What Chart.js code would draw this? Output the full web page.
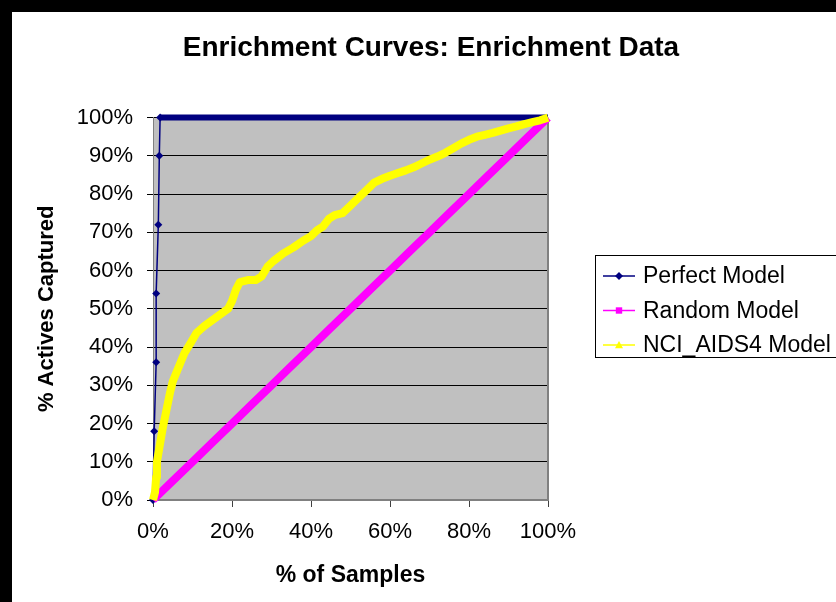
<!DOCTYPE html>
<html>
<head>
<meta charset="utf-8">
<title>Enrichment Curves: Enrichment Data</title>
<script src="https://cdn.jsdelivr.net/npm/chart.js@4/dist/chart.umd.min.js"></script>
<style>
  html, body { margin: 0; padding: 0; background: #000; }
  #frame { position: absolute; left: 12px; top: 12px; width: 824px; height: 590px; background: #fff; }
  canvas { display: block; }
</style>
</head>
<body>
<div id="frame"><canvas id="chart" width="824" height="590"></canvas></div>
<script>
// Percent of samples screened (x) vs percent of actives captured (y)
const perfectX = [0, 0.3, 0.8, 0.8, 1.35, 1.6, 1.8, 100];
const perfectY = [0, 18, 36, 54, 72, 90, 100, 100];

const randomX = [0, 5, 10, 15, 20, 25, 30, 35, 40, 45, 50, 55, 60, 65, 70, 75, 80, 85, 90, 95, 100];
const randomY = [0, 5, 10, 15, 20, 25, 30, 35, 40, 45, 50, 55, 60, 65, 70, 75, 80, 85, 90, 95, 100];

const nciX = [0, 0.5, 0.8, 1, 1.5, 2.5, 3.5, 4.3, 5, 6, 7, 8, 9.5, 11, 13, 15, 17, 19, 20, 21, 22,
  24, 26, 27.5, 29, 30.5, 33, 35.5, 38, 40, 41.5, 43, 44.5, 46, 48, 50, 52, 54, 56, 58, 60,
  62, 64, 66, 68, 70, 72, 74, 76, 78, 80, 82, 84, 86, 88, 90, 92, 94, 96, 98, 100];
const nciY = [0, 2, 6, 10, 13, 19, 24, 28, 31, 33.5, 36, 38.5, 41, 43.7, 45.5, 47, 48.5, 50, 52, 55, 57,
  57.5, 57.5, 58.5, 61, 62.5, 64.5, 66, 67.8, 69, 70.5, 71.5, 73.5, 74.5, 75, 77, 79, 81, 83, 84, 84.8,
  85.5, 86.2, 87, 88, 89, 89.8, 90.8, 92, 93.2, 94.2, 95, 95.5, 96, 96.6, 97.2, 97.7, 98.3, 98.8, 99.3, 100];

const seriesNames = ['Perfect Model', 'Random Model', 'NCI_AIDS4 Model'];
const yTicks = [0, 10, 20, 30, 40, 50, 60, 70, 80, 90, 100];
const xTicks = [0, 20, 40, 60, 80, 100];

const FONT = '"Liberation Sans", Arial, sans-serif';
const pts = (xs, ys) => xs.map((x, i) => ({ x: x, y: ys[i] }));

// gray plot area and right-hand frame line
const plotBackground = {
  id: 'plotBackground',
  beforeDraw(chart) {
    const { ctx, chartArea: a } = chart;
    ctx.save();
    ctx.fillStyle = '#c0c0c0';
    ctx.fillRect(a.left, a.top, a.right - a.left, a.bottom - a.top);
    ctx.restore();
  },
  beforeDatasetsDraw(chart) {
    const { ctx, chartArea: a } = chart;
    ctx.save();
    ctx.strokeStyle = '#808080';
    ctx.lineWidth = 2;
    ctx.beginPath();
    ctx.moveTo(a.right, a.top);
    ctx.lineTo(a.right, a.bottom);
    ctx.stroke();
    ctx.restore();
  }
};

function drawMarker(ctx, style, x, y, r, color) {
  ctx.fillStyle = color;
  ctx.beginPath();
  if (style === 'rectRot') {
    ctx.moveTo(x, y - r); ctx.lineTo(x + r, y); ctx.lineTo(x, y + r); ctx.lineTo(x - r, y);
  } else if (style === 'rect') {
    ctx.rect(x - r * 0.8, y - r * 0.8, r * 1.6, r * 1.6);
  } else {
    ctx.moveTo(x, y - r); ctx.lineTo(x + r, y + r * 0.8); ctx.lineTo(x - r, y + r * 0.8);
  }
  ctx.closePath();
  ctx.fill();
}

// boxed legend to the right of the plot
const boxLegend = {
  id: 'boxLegend',
  afterDraw(chart) {
    const { ctx } = chart;
    const left = 583, top = 243, bottom = 345, step = 34.5, firstY = 264;
    ctx.save();
    ctx.strokeStyle = '#000';
    ctx.lineWidth = 1;
    ctx.strokeRect(left + 0.5, top + 0.5, 300, bottom - top);
    ctx.font = '23px ' + FONT;
    ctx.textBaseline = 'middle';
    ctx.textAlign = 'left';
    chart.data.datasets.forEach((ds, i) => {
      const y = firstY + i * step;
      ctx.strokeStyle = ds.borderColor;
      ctx.lineWidth = 1.5;
      ctx.beginPath();
      ctx.moveTo(591, y);
      ctx.lineTo(623, y);
      ctx.stroke();
      drawMarker(ctx, ds.pointStyle, 607, y, 4, ds.borderColor);
      ctx.fillStyle = '#000';
      ctx.fillText(ds.label, 631, y + 1);
    });
    ctx.restore();
  }
};

new Chart(document.getElementById('chart'), {
  type: 'line',
  data: {
    datasets: [
      {
        label: seriesNames[0],
        data: pts(perfectX, perfectY),
        borderColor: '#000080',
        backgroundColor: '#000080',
        pointStyle: 'rectRot',
        pointRadius: ctx => (ctx.raw && ctx.raw.x < 100 ? 4 : 0),
        pointBorderWidth: 0,
        segment: {
          borderWidth: ctx => (ctx.p0.parsed.y >= 100 && ctx.p1.parsed.y >= 100 ? 6 : 1.5)
        },
        borderWidth: 1.5,
        order: 3,
        clip: false
      },
      {
        label: seriesNames[1],
        data: pts(randomX, randomY),
        borderColor: '#ff00ff',
        backgroundColor: '#ff00ff',
        pointStyle: 'rect',
        pointRadius: 0,
        borderWidth: 8,
        order: 2,
        clip: false
      },
      {
        label: seriesNames[2],
        data: pts(nciX, nciY),
        borderColor: '#ffff00',
        backgroundColor: '#ffff00',
        pointStyle: 'triangle',
        pointRadius: 0,
        borderWidth: 8,
        borderJoinStyle: 'round',
        order: 1,
        clip: false
      }
    ]
  },
  options: {
    responsive: false,
    animation: false,
    devicePixelRatio: 1,
    layout: { padding: { left: 14, right: 0, top: 0, bottom: 0 } },
    plugins: {
      legend: { display: false },
      tooltip: { enabled: false },
      title: {
        display: true,
        text: 'Enrichment Curves: Enrichment Data',
        color: '#000',
        font: { family: FONT, size: 28, weight: 'bold' },
        padding: { top: 19, bottom: 53 }
      }
    },
    scales: {
      x: {
        type: 'linear',
        min: 0,
        max: 100,
        afterBuildTicks: scale => { scale.ticks = xTicks.map(v => ({ value: v })); },
        afterFit: scale => { scale.height = 102; },
        ticks: {
          color: '#000',
          font: { family: FONT, size: 22 },
          padding: 12,
          maxRotation: 0,
          callback: v => v + '%'
        },
        grid: { drawOnChartArea: false, color: '#404040', tickLength: 7, lineWidth: 1 },
        border: { display: true, color: '#808080', width: 2 },
        title: {
          display: true,
          text: '% of Samples',
          color: '#000',
          font: { family: FONT, size: 23, weight: 'bold' },
          padding: { top: 0, bottom: 13 }
        }
      },
      y: {
        type: 'linear',
        min: 0,
        max: 100,
        afterBuildTicks: scale => { scale.ticks = yTicks.map(v => ({ value: v })); },
        afterFit: scale => { scale.width = 127; },
        ticks: {
          color: '#000',
          font: { family: FONT, size: 22 },
          padding: 14,
          callback: v => v + '%'
        },
        grid: { color: '#000', lineWidth: 1, tickLength: 6 },
        border: { display: true, color: '#808080', width: 1 },
        title: {
          display: true,
          text: '% Actives Captured',
          color: '#000',
          font: { family: FONT, size: 22, weight: 'bold' },
          padding: { top: 8, bottom: 0 }
        }
      },
      // empty right-hand axis that reserves the space used by the legend box
      yRight: {
        type: 'linear',
        position: 'right',
        display: true,
        min: 0,
        max: 100,
        afterFit: scale => { scale.width = 288; },
        ticks: { display: false },
        grid: { display: false, drawOnChartArea: false },
        border: { display: false },
        title: { display: false }
      }
    }
  },
  plugins: [plotBackground, boxLegend]
});
</script>
</body>
</html>
